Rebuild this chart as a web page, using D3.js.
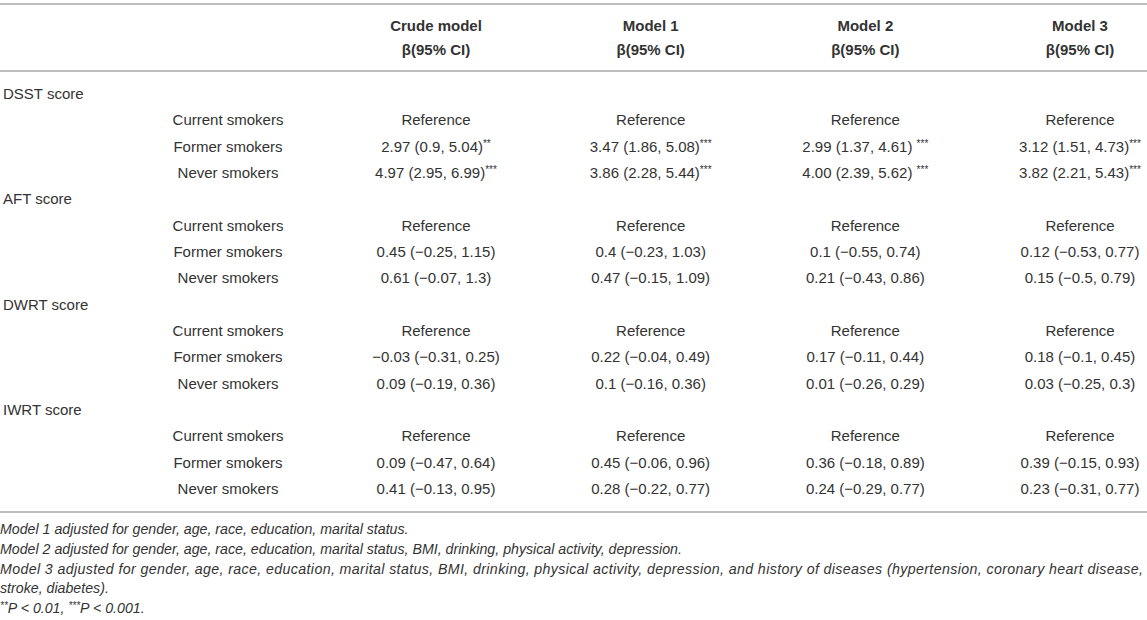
<!DOCTYPE html>
<html>
<head>
<meta charset="utf-8">
<script src="https://cdn.jsdelivr.net/npm/d3@7"></script>
<style>
  body { margin: 0; background: #fff; }
  svg { display: block; font-family: "Liberation Sans", Arial, Helvetica, sans-serif; }
</style>
</head>
<body>
<div class="tbl"></div>
<script>
var scores = ["DSST score", "AFT score", "DWRT score", "IWRT score"];
var groups = ["Current smokers", "Former smokers", "Never smokers"];
var models = ["Crude model", "Model 1", "Model 2", "Model 3"];
var subHead = "\u03b2(95% CI)";

// former / never for each score, in score order
var crude = ["2.97 (0.9, 5.04)", "4.97 (2.95, 6.99)",
             "0.45 (\u22120.25, 1.15)", "0.61 (\u22120.07, 1.3)",
             "\u22120.03 (\u22120.31, 0.25)", "0.09 (\u22120.19, 0.36)",
             "0.09 (\u22120.47, 0.64)", "0.41 (\u22120.13, 0.95)"];
var model1 = ["3.47 (1.86, 5.08)", "3.86 (2.28, 5.44)",
              "0.4 (\u22120.23, 1.03)", "0.47 (\u22120.15, 1.09)",
              "0.22 (\u22120.04, 0.49)", "0.1 (\u22120.16, 0.36)",
              "0.45 (\u22120.06, 0.96)", "0.28 (\u22120.22, 0.77)"];
var model2 = ["2.99 (1.37, 4.61) ", "4.00 (2.39, 5.62) ",
              "0.1 (\u22120.55, 0.74)", "0.21 (\u22120.43, 0.86)",
              "0.17 (\u22120.11, 0.44)", "0.01 (\u22120.26, 0.29)",
              "0.36 (\u22120.18, 0.89)", "0.24 (\u22120.29, 0.77)"];
var model3 = ["3.12 (1.51, 4.73)", "3.82 (2.21, 5.43)",
              "0.12 (\u22120.53, 0.77)", "0.15 (\u22120.5, 0.79)",
              "0.18 (\u22120.1, 0.45)", "0.03 (\u22120.25, 0.3)",
              "0.39 (\u22120.15, 0.93)", "0.23 (\u22120.31, 0.77)"];
var crudeSig  = ["**", "***", "", "", "", "", "", ""];
var model1Sig = ["***", "***", "", "", "", "", "", ""];
var model2Sig = ["***", "***", "", "", "", "", "", ""];
var model3Sig = ["***", "***", "", "", "", "", "", ""];

var notes = [
  "Model 1 adjusted for gender, age, race, education, marital status.",
  "Model 2 adjusted for gender, age, race, education, marital status, BMI, drinking, physical activity, depression.",
  "Model 3 adjusted for gender, age, race, education, marital status, BMI, drinking, physical activity, depression, and history of diseases (hypertension, coronary heart disease,",
  "stroke, diabetes)."
];

var W = 1147, H = 620;
var ink = "#333";

var svg = d3.select(".tbl")
  .append("svg")
  .attr("width", W)
  .attr("height", H);

var values = [crude, model1, model2, model3];
var sigs = [crudeSig, model1Sig, model2Sig, model3Sig];

// build the body rows
var rows = [];
scores.forEach(function(s, si){
  rows.push({label: s, head: true});
  groups.forEach(function(g, gi){
    var cells = models.map(function(m, mi){
      if (gi == 0) return {text: "Reference", sig: ""};
      var k = si*2 + gi - 1;
      return {text: values[mi][k], sig: sigs[mi][k]};
    });
    rows.push({label: g, head: false, cells: cells});
  });
});

var x = d3.scalePoint().domain(models).range([436, 1080]);
var y = d3.scalePoint().domain(d3.range(rows.length)).range([94, 489]);

// rules
svg.selectAll("line.rule")
  .data([4, 71, 512])
  .enter()
  .append("line")
  .attr("class", "rule")
  .attr("x1", 0).attr("x2", W)
  .attr("y1", function(d){ return d; })
  .attr("y2", function(d){ return d; })
  .attr("stroke", "#a9a9a9")
  .attr("stroke-width", 1.6);

// header
var head = svg.selectAll("g.head")
  .data(models)
  .enter()
  .append("g")
  .attr("class", "head")
  .attr("transform", function(d){ return "translate(" + x(d) + ",0)"; });

head.append("text")
  .attr("y", 31)
  .attr("text-anchor", "middle")
  .attr("font-size", "15px")
  .attr("font-weight", "bold")
  .attr("fill", ink)
  .text(function(d){ return d; });

head.append("text")
  .attr("y", 55)
  .attr("text-anchor", "middle")
  .attr("font-size", "15px")
  .attr("font-weight", "bold")
  .attr("fill", ink)
  .text(subHead);

// body
var row = svg.selectAll("g.row")
  .data(rows)
  .enter()
  .append("g")
  .attr("class", "row")
  .attr("transform", function(d, i){ return "translate(0," + (y(i) + 5) + ")"; });

row.append("text")
  .attr("x", function(d){ return d.head ? 3 : 228; })
  .attr("text-anchor", function(d){ return d.head ? "start" : "middle"; })
  .attr("font-size", "15px")
  .attr("fill", ink)
  .text(function(d){ return d.label; });

var cell = row.filter(function(d){ return !d.head; })
  .selectAll("text.cell")
  .data(function(d){ return d.cells; })
  .enter()
  .append("text")
  .attr("class", "cell")
  .attr("x", function(d, i){ return x(models[i]); })
  .attr("text-anchor", "middle")
  .attr("font-size", "15px")
  .attr("fill", ink);

cell.append("tspan").text(function(d){ return d.text; });
cell.append("tspan")
  .attr("font-size", "10px")
  .attr("dy", -5)
  .text(function(d){ return d.sig; });

// footnotes
var noteY = d3.scalePoint().domain(d3.range(notes.length + 1)).range([534, 613]);

svg.selectAll("text.note")
  .data(notes)
  .enter()
  .append("text")
  .attr("class", "note")
  .attr("x", 0)
  .attr("y", function(d, i){ return noteY(i); })
  .attr("font-size", "14.2px")
  .attr("font-style", "italic")
  .attr("fill", ink)
  .attr("textLength", function(d, i){ return i == 2 ? 1143 : null; })
  .attr("lengthAdjust", "spacing")
  .text(function(d){ return d; });

var pnote = svg.append("text")
  .attr("x", 0)
  .attr("y", noteY(notes.length))
  .attr("font-size", "14.2px")
  .attr("font-style", "italic")
  .attr("fill", ink);
pnote.append("tspan").attr("font-size", "10px").attr("dy", -4).text("**");
pnote.append("tspan").attr("dy", 4).text("P < 0.01, ");
pnote.append("tspan").attr("font-size", "10px").attr("dy", -4).text("***");
pnote.append("tspan").attr("dy", 4).text("P < 0.001.");
</script>
</body>
</html>
